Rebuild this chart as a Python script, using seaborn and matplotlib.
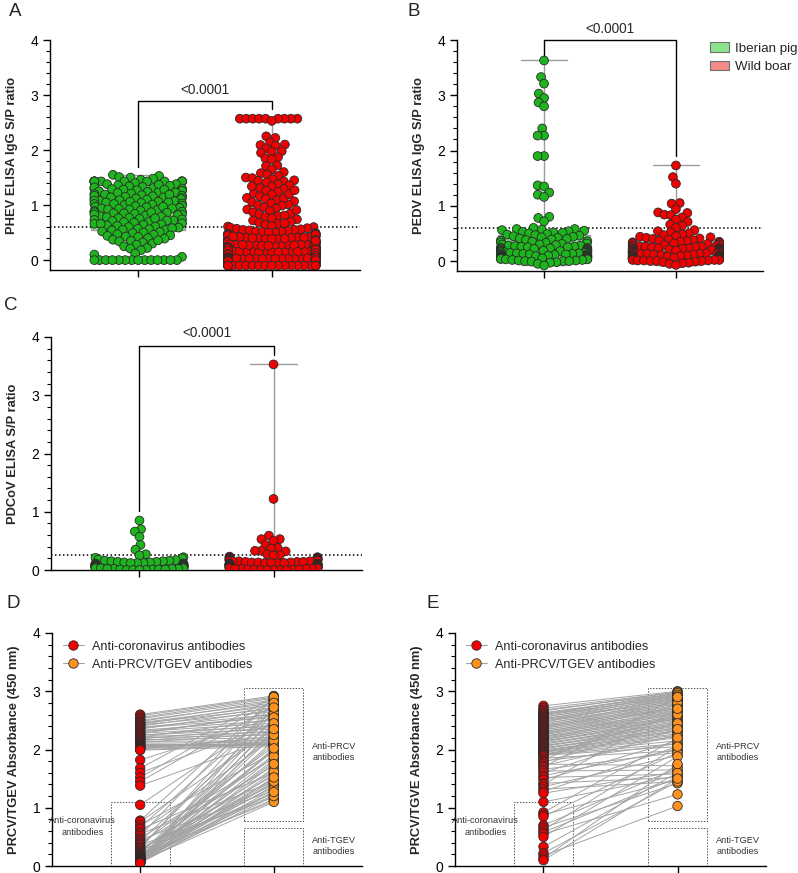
import numpy as np
import pandas as pd
import matplotlib
matplotlib.use("Agg")
import matplotlib.pyplot as plt
from matplotlib.patches import Patch, Rectangle
from matplotlib.lines import Line2D
import seaborn as sns

# ---------------- data ----------------
groups = ["Iberian pig", "Wild boar"]

# A: PHEV ELISA IgG S/P ratio
phev_iberian = ([1.55, 1.53, 1.51, 1.50, 1.48, 1.46] + [1.43] * 14 +
    [1.40, 1.38, 1.38, 1.36, 1.35, 1.34, 1.33, 1.31, 1.30, 1.30, 1.32, 1.37,
     1.29, 1.28, 1.27, 1.26, 1.25, 1.24, 1.23, 1.22, 1.21, 1.20, 1.26, 1.23, 1.28,
     1.19, 1.18, 1.17, 1.16, 1.15, 1.14, 1.13, 1.12, 1.11, 1.10, 1.17, 1.14, 1.12, 1.19,
     1.09, 1.08, 1.07, 1.06, 1.05, 1.04, 1.03, 1.02, 1.01, 1.00, 1.08, 1.05, 1.02, 1.06,
     0.99, 0.98, 0.97, 0.96, 0.95, 0.94, 0.93, 0.92, 0.91, 0.90, 0.97, 0.94, 0.92,
     0.89, 0.88, 0.87, 0.86, 0.85, 0.84, 0.83, 0.82, 0.81, 0.80, 0.87, 0.83, 0.85,
     0.79, 0.78, 0.77, 0.76, 0.75, 0.74, 0.73, 0.72, 0.71, 0.70, 0.76, 0.72,
     0.69, 0.68, 0.67, 0.66, 0.65, 0.64, 0.63, 0.62, 0.61, 0.60, 0.66,
     0.59, 0.57, 0.56, 0.55, 0.54, 0.52, 0.51, 0.50, 0.55, 0.58,
     0.49, 0.47, 0.46, 0.45, 0.43, 0.42, 0.40, 0.44,
     0.39, 0.37, 0.35, 0.34, 0.32, 0.30, 0.36,
     0.28, 0.25, 0.22, 0.21, 0.18, 0.12, 0.10, 0.06] + [0.0] * 14)
phev_boar = ([2.57] * 9 +
    [2.53, 2.25, 2.22, 2.14, 2.10, 2.09, 2.08, 2.03, 1.98, 1.97, 1.95, 1.87, 1.85,
     1.83, 1.72, 1.71, 1.65, 1.60, 1.58, 1.55, 1.53, 1.50, 1.49, 1.47, 1.45, 1.44,
     1.43, 1.41, 1.38, 1.36, 1.33, 1.31, 1.29, 1.26, 1.24, 1.21, 1.19, 1.16, 1.13,
     1.11, 1.09, 1.07, 1.05, 1.03, 1.01, 1.00, 1.12, 1.20, 1.27, 1.34,
     0.99, 0.96, 0.94, 0.92, 0.89, 0.87, 0.85, 0.83, 0.80, 0.78, 0.76, 0.74, 0.72,
     0.70, 0.68, 0.66, 0.64, 0.62, 0.61, 0.60, 0.91, 0.81, 0.67,
     0.59, 0.58, 0.57, 0.56, 0.55, 0.55, 0.54, 0.53, 0.52, 0.52, 0.51, 0.50, 0.50,
     0.49, 0.48, 0.47, 0.47, 0.46, 0.45, 0.44, 0.44, 0.43, 0.42, 0.41, 0.41, 0.40,
     0.39, 0.38, 0.38, 0.37, 0.36, 0.35, 0.35, 0.34, 0.33, 0.32, 0.32, 0.31, 0.30, 0.30,
     0.29, 0.28, 0.28, 0.27, 0.26, 0.26, 0.25, 0.24, 0.24, 0.23, 0.22, 0.22, 0.21,
     0.20, 0.20, 0.19, 0.18, 0.18, 0.17, 0.16, 0.16, 0.15, 0.15, 0.14, 0.13, 0.13,
     0.12, 0.12, 0.11, 0.11, 0.10, 0.10, 0.09, 0.09, 0.08, 0.08, 0.07, 0.07, 0.06,
     0.06, 0.05, 0.05,
     0.29, 0.27, 0.25, 0.23, 0.21, 0.19, 0.17, 0.15, 0.14, 0.13, 0.12, 0.11, 0.10,
     0.09, 0.08, 0.07, 0.06, 0.05, 0.28, 0.24, 0.20, 0.16, 0.12, 0.09, 0.07, 0.06,
     0.22, 0.18, 0.14, 0.11,
     0.48, 0.45, 0.44, 0.41, 0.38, 0.36, 0.35, 0.33, 0.31, 0.29, 0.28, 0.26, 0.25,
     0.24, 0.22, 0.21, 0.19, 0.18, 0.17, 0.15, 0.14, 0.13, 0.12, 0.11, 0.10, 0.09,
     0.08, 0.07, 0.06, 0.05,
     0.46, 0.42, 0.39, 0.34, 0.30, 0.27, 0.23, 0.20, 0.16, 0.13, 0.11, 0.09, 0.08,
     0.06, 0.05, 0.04, 0.03, 0.02, 0.01, 0.00,
     0.43, 0.37, 0.32, 0.27, 0.22, 0.18, 0.15, 0.12, 0.10, 0.08, 0.07, 0.05, 0.04,
     0.03, 0.02, 0.01, 0.00, -0.01, -0.02, -0.04,
     0.40, 0.33, 0.26, 0.21, 0.17, 0.14, 0.11, 0.09, 0.07, 0.06, 0.04, 0.03, 0.02,
     0.01, 0.00, 0.00, -0.01, -0.03, -0.05, -0.07,
     0.35, 0.28, 0.19, 0.13, 0.10, 0.08, 0.05, 0.04, 0.03, 0.02, 0.01, 0.01, 0.00,
     0.00, -0.02, -0.03, -0.06, -0.08, -0.09, -0.09,
     0.04, 0.04, 0.04, 0.03, 0.03, 0.03, 0.03, 0.02, 0.02, 0.02, 0.02, 0.01, 0.01,
     0.01, 0.01, 0.00, 0.00, 0.00, 0.00, 0.00, 0.00, -0.01, -0.01, -0.02, -0.02,
     -0.03, -0.03, -0.04, -0.05, -0.06,
     0.02, 0.01, 0.00, 0.03, 0.04, 0.00, 0.01, 0.02, -0.01, -0.02] + [-0.10] * 24)

# B: PEDV ELISA IgG S/P ratio
pedv_iberian = [3.63, 3.33, 3.21, 3.03, 2.95, 2.87, 2.80, 2.40, 2.27, 2.27, 1.90, 1.90,
    1.37, 1.35, 1.24, 1.20, 1.16, 0.80, 0.78, 0.72, 0.60, 0.58,
    0.58, 0.57, 0.56, 0.55, 0.54, 0.53, 0.52, 0.51, 0.50, 0.49, 0.48, 0.47, 0.46,
    0.45, 0.44, 0.43, 0.42, 0.41, 0.40, 0.39, 0.38, 0.37, 0.36, 0.35, 0.34, 0.33,
    0.32, 0.31, 0.30, 0.30, 0.29, 0.28, 0.28, 0.27, 0.26, 0.26, 0.25, 0.25, 0.24,
    0.24, 0.23, 0.23, 0.22, 0.22, 0.21, 0.21, 0.20, 0.20, 0.20, 0.19, 0.19, 0.18,
    0.18, 0.18, 0.17, 0.17, 0.16, 0.16, 0.16, 0.15, 0.15, 0.15, 0.14, 0.14, 0.14,
    0.13, 0.13, 0.13, 0.12, 0.12, 0.12, 0.11, 0.11, 0.11, 0.10, 0.10, 0.10, 0.09,
    0.09, 0.09, 0.08, 0.08, 0.08, 0.07, 0.07, 0.07, 0.06, 0.06, 0.06, 0.05, 0.05,
    0.05, 0.04, 0.04, 0.04, 0.03, 0.03, 0.02, 0.02, 0.01, 0.01, 0.00, 0.00, 0.00,
    -0.01, -0.02, -0.03, -0.05, -0.08]
pedv_boar = [1.73, 1.52, 1.40, 1.05, 1.04, 0.94, 0.88, 0.87, 0.84, 0.83, 0.79, 0.75,
    0.71, 0.66, 0.64, 0.60,
    0.56, 0.54, 0.52, 0.50, 0.48, 0.47, 0.45, 0.44, 0.43, 0.42, 0.41, 0.40, 0.39,
    0.38, 0.37, 0.36, 0.35, 0.35, 0.34, 0.33, 0.32, 0.32, 0.31, 0.30, 0.30, 0.29,
    0.28, 0.28, 0.27, 0.27, 0.26, 0.26, 0.25, 0.25, 0.24, 0.24, 0.23, 0.23, 0.22,
    0.22, 0.22, 0.21, 0.21, 0.20, 0.20, 0.20, 0.19, 0.19, 0.19, 0.18, 0.18, 0.18,
    0.17, 0.17, 0.17, 0.16, 0.16, 0.16, 0.15, 0.15, 0.15, 0.14, 0.14, 0.14, 0.13,
    0.13, 0.13, 0.12, 0.12, 0.12, 0.11, 0.11, 0.11, 0.10, 0.10, 0.10, 0.09, 0.09,
    0.09, 0.08, 0.08, 0.08, 0.07, 0.07, 0.07, 0.06, 0.06, 0.06, 0.05, 0.05, 0.05,
    0.04, 0.04, 0.04, 0.03, 0.03, 0.03, 0.02, 0.02, 0.02, 0.01, 0.01, 0.01, 0.00,
    0.00, 0.00, -0.01, -0.02, -0.03, -0.04, -0.05, -0.07]

# C: PDCoV ELISA S/P ratio
pdcov_iberian = [0.85, 0.70, 0.66, 0.57, 0.43, 0.35, 0.27, 0.25, 0.22, 0.21, 0.20,
    0.18, 0.17, 0.16, 0.16, 0.15, 0.15, 0.14, 0.14, 0.13, 0.13, 0.12, 0.12, 0.12,
    0.11, 0.11, 0.11, 0.10, 0.10, 0.10, 0.09, 0.09, 0.09, 0.08, 0.08, 0.08, 0.08,
    0.07, 0.07, 0.07, 0.07, 0.06, 0.06, 0.06, 0.06, 0.05, 0.05, 0.05, 0.05, 0.04,
    0.04, 0.04, 0.04, 0.03, 0.03, 0.03, 0.03, 0.02, 0.02, 0.02, 0.02, 0.01, 0.01,
    0.01, 0.01, 0.00, 0.00, 0.00, 0.00]
pdcov_boar = [3.53, 1.22, 0.59, 0.53, 0.53, 0.50, 0.43, 0.38, 0.37, 0.33, 0.33, 0.32,
    0.27, 0.26, 0.25,
    0.23, 0.22, 0.22, 0.21, 0.21, 0.20, 0.20, 0.19, 0.19, 0.18, 0.18, 0.18, 0.17,
    0.17, 0.17, 0.16, 0.16, 0.16, 0.15, 0.15, 0.15, 0.14, 0.14, 0.14, 0.13, 0.13,
    0.13, 0.12, 0.12, 0.12, 0.12, 0.11, 0.11, 0.11, 0.11, 0.10, 0.10, 0.10, 0.10,
    0.09, 0.09, 0.09, 0.09, 0.08, 0.08, 0.08, 0.08, 0.07, 0.07, 0.07, 0.07, 0.06,
    0.06, 0.06, 0.06, 0.05, 0.05, 0.05, 0.05, 0.04, 0.04, 0.04, 0.04, 0.03, 0.03,
    0.03, 0.03, 0.02, 0.02, 0.02, 0.02, 0.01, 0.01, 0.01, 0.01, 0.00, 0.00, 0.00,
    0.00, 0.00]

# D: paired absorbance, anti-coronavirus ELISA vs anti-PRCV/TGEV ELISA
d_corona = [2.60, 2.58, 2.55, 2.53, 2.50, 2.48, 2.46, 2.45, 2.43, 2.42, 2.40, 2.38,
    2.37, 2.35, 2.33, 2.31, 2.30, 2.28, 2.27, 2.25, 2.24, 2.22, 2.21, 2.20, 2.18,
    2.17, 2.15, 2.14, 2.12, 2.11, 2.10, 2.09, 2.08, 2.07, 2.06, 2.05, 2.04, 2.03,
    2.02, 2.01, 2.00, 1.99,
    1.82, 1.68, 1.60, 1.52, 1.45, 1.38, 1.05,
    0.78, 0.76, 0.70, 0.66, 0.63, 0.58, 0.55, 0.52, 0.48, 0.45, 0.43, 0.40, 0.38,
    0.36, 0.33, 0.31, 0.30, 0.28, 0.26, 0.25, 0.23, 0.22, 0.21, 0.20, 0.19, 0.18,
    0.17, 0.16, 0.16, 0.15, 0.14, 0.14, 0.13, 0.13, 0.12, 0.12, 0.11, 0.11, 0.10,
    0.10, 0.10, 0.09, 0.09, 0.08, 0.08, 0.08, 0.07, 0.07, 0.07, 0.06, 0.06, 0.06,
    0.05, 0.05, 0.05]
d_prcv = [2.92, 2.90, 2.88, 2.85, 2.80, 2.83, 2.75, 2.70, 2.78, 2.65, 2.72, 2.60,
    2.55, 2.68, 2.50, 2.45, 2.58, 2.40, 2.62, 2.35, 2.42, 2.30, 2.52, 2.25, 2.38,
    2.20, 2.32, 2.15, 2.28, 2.12, 2.10, 2.08, 2.09, 2.08, 2.10, 2.08, 2.12, 2.18,
    2.08, 2.22, 2.08, 2.05,
    2.55, 2.90, 2.45, 2.85, 2.75, 2.20, 2.60,
    2.88, 2.35, 1.95, 2.70, 1.60, 2.20, 1.45, 2.90, 1.85, 1.30, 2.50, 1.72, 2.05,
    1.18, 2.62, 1.40, 2.80, 1.55, 1.25, 1.90, 2.10, 1.35, 2.40, 1.65, 1.12, 2.00,
    1.50, 2.30, 1.78, 1.22, 2.15, 1.42, 2.55, 1.15, 1.68, 1.98, 1.28, 2.25, 1.82,
    1.48, 1.38, 2.45, 1.58, 1.10, 1.88, 1.32, 2.72, 1.62, 1.20, 2.02, 1.75, 1.45,
    2.35, 1.52, 1.27]

# E: paired absorbance, second comparison
e_corona = [2.75, 2.71, 2.68, 2.66, 2.63, 2.62, 2.60, 2.60, 2.58, 2.56, 2.55, 2.53,
    2.52, 2.51, 2.49, 2.48, 2.47, 2.45, 2.44, 2.42, 2.41, 2.40, 2.38, 2.37, 2.36,
    2.34, 2.33, 2.31, 2.30, 2.29, 2.27, 2.26, 2.25, 2.23, 2.22, 2.21, 2.19, 2.18,
    2.17, 2.15, 2.14, 2.13, 2.11, 2.10, 2.09, 2.07, 2.06, 2.05, 2.03, 2.02, 2.01,
    1.99, 1.98, 1.97, 1.96, 1.95, 1.93, 1.92, 1.91, 1.90,
    1.88, 1.85, 1.82, 1.80, 1.78, 1.75, 1.72, 1.70, 1.66, 1.63, 1.60, 1.55, 1.52,
    1.48, 1.42, 1.40, 1.36, 1.32, 1.28, 1.25, 1.10,
    0.92, 0.88, 0.85, 0.70, 0.66, 0.62, 0.58, 0.55, 0.50, 0.33, 0.22, 0.18, 0.13, 0.10]
e_prcv = [3.00, 2.98, 2.96, 2.99, 2.95, 2.93, 2.97, 2.90, 2.92, 2.88, 2.94, 2.85,
    2.91, 2.83, 2.87, 2.80, 2.89, 2.78, 2.84, 2.75, 2.82, 2.72, 2.79, 2.70, 2.76,
    2.68, 2.73, 2.65, 2.71, 2.62, 2.67, 2.60, 2.64, 2.57, 2.61, 2.55, 2.58, 2.52,
    2.54, 2.50, 2.47, 2.53, 2.45, 2.42, 2.48, 2.40, 2.37, 2.44, 2.35, 2.32, 2.38,
    2.30, 2.27, 2.33, 2.25, 2.22, 2.20, 2.15, 2.10, 2.05,
    2.60, 1.98, 2.80, 2.10, 2.45, 1.72, 2.25, 2.90, 1.95, 1.65, 2.35, 2.00, 1.58,
    2.15, 1.52, 2.70, 1.90, 1.45, 2.05, 1.62, 1.55,
    2.20, 1.48, 1.95, 1.68, 1.42, 2.05, 1.52, 1.23, 1.88, 1.60, 1.45, 1.03, 1.75, 1.50]

pair_levels = ["Anti-coronavirus antibodies", "Anti-PRCV/TGEV antibodies"]

# ---------------- style ----------------
PTS = {"Iberian pig": "#1db41d", "Wild boar": "#f00000"}
BOX = {"Iberian pig": "#8ce28c", "Wild boar": "#f68b8b"}
PAIR = {pair_levels[0]: "#f00000", pair_levels[1]: "#ff921e"}
EDGE = "#2a2a2a"
GREY = "#a3a3a3"
SWARM_SIZE = 4.8     # marker size used to lay out the swarm
DOT_SIZE = 6.3       # marker size actually drawn (GraphPad-like overlap)
SQUEEZE = 0.82

sns.set_theme(style="ticks")
plt.rcParams["font.family"] = ["Liberation Sans", "DejaVu Sans"]
plt.rcParams.update({
    "font.size": 9, "axes.linewidth": 1.0, "axes.edgecolor": "black",
    "xtick.major.size": 5, "ytick.major.size": 5, "ytick.minor.size": 3,
    "xtick.major.width": 1, "ytick.major.width": 1, "ytick.minor.width": 0.8,
    "xtick.color": "black", "ytick.color": "black",
    "xtick.labelsize": 10, "ytick.labelsize": 10,
})

W, H = 798, 873
fig = plt.figure(figsize=(W / 100, H / 100), dpi=100)


def px_axes(left, top, right, bottom):
    return fig.add_axes([left / W, 1 - bottom / H, (right - left) / W, (bottom - top) / H])


def style_axis(ax, ylabel, ylo):
    ax.set_xlim(-0.66, 1.66)
    ax.set_ylim(ylo, 4)
    ax.set_xticks([0, 1])
    ax.set_xticklabels(["", ""])
    ax.set_yticks([0, 1, 2, 3, 4])
    ax.set_yticklabels(["0", "1", "2", "3", "4"])
    ax.set_yticks(np.arange(0.2, 4, 0.2), minor=True)
    ax.set_xlabel("")
    ax.set_ylabel(ylabel, fontweight="bold", fontsize=9.3, labelpad=9)
    sns.despine(ax=ax)


def column_panel(ax, iberian, boar, ylabel, cutoff, ylo, hide_left_cap=False):
    df = pd.DataFrame({"group": [groups[0]] * len(iberian) + [groups[1]] * len(boar),
                       "value": iberian + boar})
    sns.boxplot(data=df, x="group", y="value", order=groups, hue="group",
                hue_order=groups, palette=BOX, legend=False, whis=(0, 100),
                width=0.7, showfliers=False, linecolor="#9c9c9c", linewidth=1,
                ax=ax, zorder=1)
    if hide_left_cap:
        for ln in ax.lines:
            y = np.asarray(ln.get_ydata(), float)
            x = np.asarray(ln.get_xdata(), float)
            if len(y) == 2 and y[0] == y[1] == max(iberian) and x.mean() < 0.5:
                ln.set_visible(False)
    sns.swarmplot(data=df, x="group", y="value", order=groups, hue="group",
                  hue_order=groups, palette=PTS, legend=False, size=SWARM_SIZE,
                  edgecolor=EDGE, linewidth=0.6, warn_thresh=1, ax=ax, zorder=3)
    ax.axhline(cutoff, color="black", ls=(0, (1, 1.6)), lw=1.1, zorder=2)
    style_axis(ax, ylabel, ylo)


def bracket(ax, y, y_left, y_right, ty):
    ax.plot([0, 0, 1, 1], [y_left, y, y, y_right], color="black", lw=1,
            clip_on=False, zorder=4)
    ax.text(0.5, ty, "<0.0001", ha="center", va="center", fontsize=9.8,
            clip_on=False)


def paired_panel(ax, corona, prcv, ylabel):
    n = len(corona)
    df = pd.DataFrame({"pair": list(range(n)) * 2, "pos": [0] * n + [1] * n,
                       "value": corona + prcv,
                       "kind": [pair_levels[0]] * n + [pair_levels[1]] * n})
    sns.lineplot(data=df, x="pos", y="value", units="pair", estimator=None,
                 color=GREY, lw=0.7, legend=False, ax=ax, zorder=1)
    sns.scatterplot(data=df, x="pos", y="value", hue="kind", palette=PAIR,
                    s=46, edgecolor=EDGE, linewidth=0.6, legend=False, ax=ax,
                    zorder=3)
    for x0, y0, h in [(-0.22, 0.0, 1.1), (0.78, 0.77, 2.28), (0.78, 0.0, 0.65)]:
        ax.add_patch(Rectangle((x0, y0), 0.44, h, fill=False, ec="#555555",
                               lw=0.7, ls=(0, (1.5, 1.5)), zorder=0.5))
    ax.text(-0.43, 0.68, "Anti-coronavirus\nantibodies", ha="center", va="center",
            fontsize=6.6, color="#333333", linespacing=1.35)
    ax.text(1.45, 1.96, "Anti-PRCV\nantibodies", ha="center", va="center",
            fontsize=6.6, color="#333333", linespacing=1.35)
    ax.text(1.45, 0.34, "Anti-TGEV\nantibodies", ha="center", va="center",
            fontsize=6.6, color="#333333", linespacing=1.35)
    handles = [Line2D([0], [0], color=GREY, lw=0.8, marker="o", markersize=6.8,
                      markerfacecolor=PAIR[k], markeredgecolor=EDGE,
                      markeredgewidth=0.6) for k in pair_levels]
    ax.legend(handles, pair_levels, loc="upper left", bbox_to_anchor=(0.01, 1.0),
              frameon=False, fontsize=9.1, handlelength=1.7, handletextpad=0.6,
              labelspacing=0.5, borderaxespad=0.2)
    style_axis(ax, ylabel, 0)


axA = px_axes(50, 40, 360, 270)
axB = px_axes(457, 40, 763, 271)
axC = px_axes(51, 337, 362, 570)
axD = px_axes(52, 633, 362, 866)
axE = px_axes(455, 633, 766, 866)

column_panel(axA, phev_iberian, phev_boar, "PHEV ELISA IgG S/P ratio", 0.6, -0.18)
bracket(axA, 2.9, 1.7, 2.75, 3.1)
column_panel(axB, pedv_iberian, pedv_boar, "PEDV ELISA IgG S/P ratio", 0.6, -0.18)
bracket(axB, 4.0, 3.72, 1.9, 4.2)
column_panel(axC, pdcov_iberian, pdcov_boar, "PDCoV ELISA S/P ratio", 0.25, 0,
             hide_left_cap=True)
bracket(axC, 3.85, 1.02, 3.69, 4.07)
paired_panel(axD, d_corona, d_prcv, "PRCV/TGEV Absorbance (450 nm)")
paired_panel(axE, e_corona, e_prcv, "PRCV/TGVE Absorbance (450 nm)")

fig.legend([Patch(facecolor=BOX[g], edgecolor="#707070", lw=0.8) for g in groups],
           groups, loc="upper left", bbox_to_anchor=(710 / W, 1 - 42 / H),
           frameon=False, fontsize=9.6, handlelength=1.4, handleheight=0.75,
           handletextpad=0.5, labelspacing=0.45, borderpad=0, borderaxespad=0)

for letter, x, y in [("A", 15, 11), ("B", 414, 11), ("C", 11, 305),
                     ("D", 13, 603), ("E", 433, 603)]:
    fig.text(x / W, 1 - y / H, letter, fontsize=13.5, ha="center", va="center")

# beeswarm offsets are computed at draw time; freeze them, narrow the columns
# and enlarge the dots so they overlap like the original column scatter
fig.canvas.draw()
for ax in (axA, axB, axC):
    for coll in ax.collections:
        if "draw" in vars(coll):
            del coll.draw
            xy = np.asarray(coll.get_offsets()).copy()
            c = np.round(np.median(xy[:, 0]))
            xy[:, 0] = c + (xy[:, 0] - c) * SQUEEZE
            coll.set_offsets(xy)
            coll.set_sizes([DOT_SIZE ** 2])

fig.savefig("out.png", dpi=100)
